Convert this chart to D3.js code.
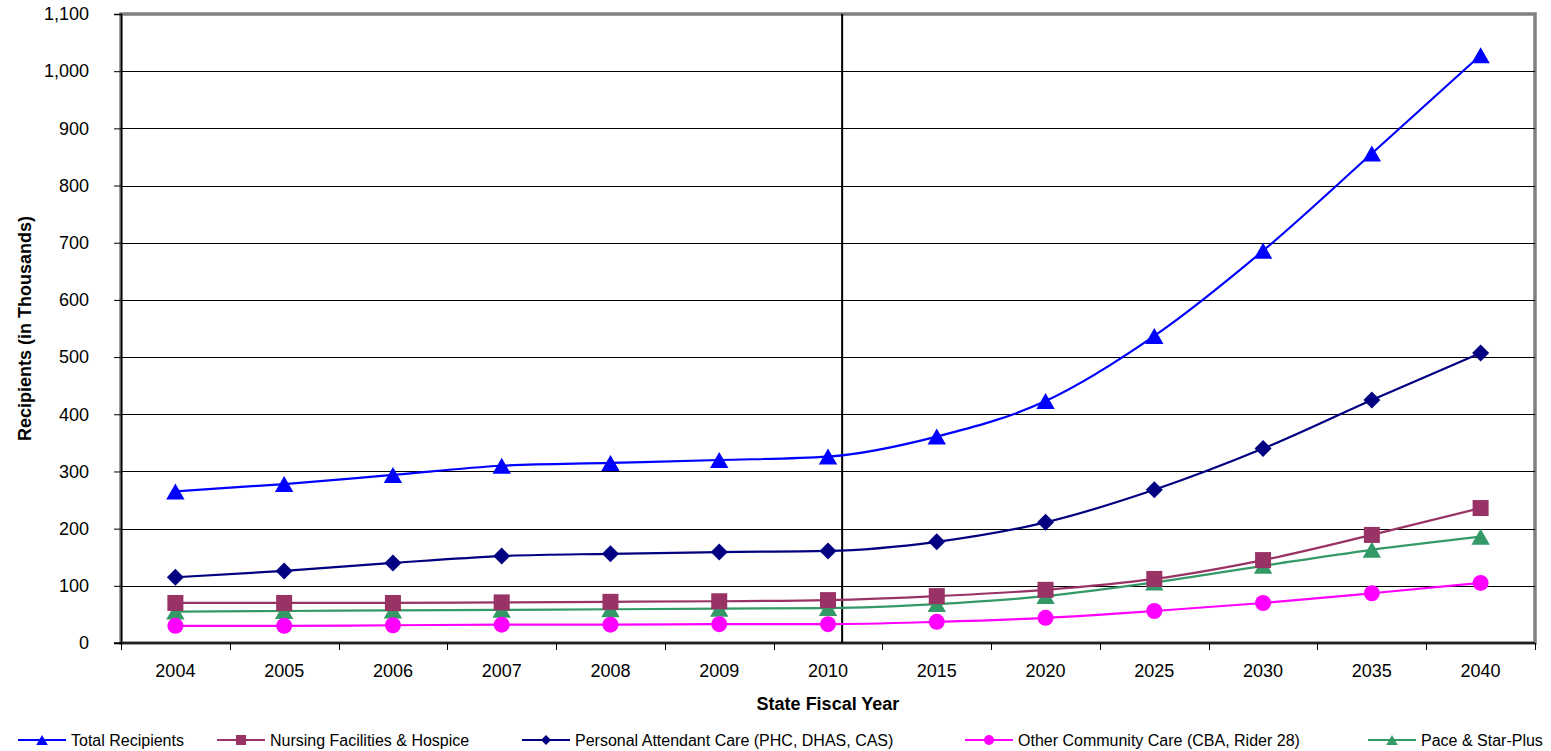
<!DOCTYPE html>
<html lang="en">
<head>
  <meta charset="utf-8">
  <script src="https://d3js.org/d3.v7.min.js"></script>
  <style>
    body {
      margin: 0;
      background: #fff;
      font-family: Arial, "Liberation Sans", Helvetica, sans-serif;
    }
    #chart text {
      fill: #000;
    }
    .tick-label {
      font-size: 18px;
    }
    .axis-title {
      font-size: 18px;
      font-weight: bold;
    }
    .legend-label {
      font-size: 16px;
    }
  </style>
</head>
<body>
  <svg id="chart" width="1551" height="751"></svg>
  <script>
    // values in thousands
    var years = ["2004", "2005", "2006", "2007", "2008", "2009", "2010",
                 "2015", "2020", "2025", "2030", "2035", "2040"];

    var totalRecipients = [265, 278, 294, 310, 315, 320, 326, 361, 423, 537, 686, 856, 1028];
    var nursingHospice  = [70, 70, 70, 71, 72, 73, 75, 82, 93, 112, 145, 189, 236];
    var personalCare    = [115, 126, 140, 152, 156, 159, 161, 177, 211, 268, 340, 425, 507];
    var otherCommunity  = [30, 30, 31, 32, 32, 33, 33, 37, 44, 56, 70, 87, 105];
    var paceStarPlus    = [55, 56, 57, 58, 59, 60, 61, 68, 82, 106, 135, 163, 186];

    var yTicks = [0, 100, 200, 300, 400, 500, 600, 700, 800, 900, 1000, 1100];

    var series = [
      { name: "Total Recipients", values: totalRecipients, color: "#0000ff", marker: "triangle" },
      { name: "Nursing Facilities & Hospice", values: nursingHospice, color: "#993366", marker: "square" },
      { name: "Personal Attendant Care (PHC, DHAS, CAS)", values: personalCare, color: "#000080", marker: "diamond" },
      { name: "Other Community Care (CBA, Rider 28)", values: otherCommunity, color: "#ff00ff", marker: "circle" },
      { name: "Pace & Star-Plus", values: paceStarPlus, color: "#339966", marker: "triangle" }
    ];

    // draw order so the blue series sit on top like the original
    var drawOrder = [4, 3, 1, 2, 0];
    var legendX = [18, 217, 522, 965, 1368];

    var svg = d3.select("#chart");
    var plotLeft = 121, plotRight = 1535, plotTop = 14, plotBottom = 643;

    var x = d3.scaleBand().domain(years).range([plotLeft, plotRight]);
    var y = d3.scaleLinear().domain([0, 1100]).range([plotBottom, plotTop]);
    var cx = function(yr) { return x(yr) + x.bandwidth() / 2; };

    // plot frame
    svg.append("rect")
      .attr("x", plotLeft).attr("y", plotTop)
      .attr("width", plotRight - plotLeft).attr("height", plotBottom - plotTop)
      .attr("fill", "#fff")
      .attr("stroke", "#808080")
      .attr("stroke-width", 3.5);

    // gridlines
    svg.append("g")
      .selectAll("line")
      .data(yTicks.filter(function(d) { return d > 0 && d < 1100; }))
      .enter().append("line")
        .attr("x1", plotLeft).attr("x2", plotRight)
        .attr("y1", function(d) { return Math.round(y(d)) + 0.5; })
        .attr("y2", function(d) { return Math.round(y(d)) + 0.5; })
        .attr("stroke", "#000")
        .attr("stroke-width", 1);

    // y axis
    var yAxis = svg.append("g")
      .attr("transform", "translate(" + plotLeft + ",0)")
      .call(d3.axisLeft(y).tickValues(yTicks).tickSize(7).tickPadding(25)
        .tickFormat(d3.format(",")));
    yAxis.select(".domain").attr("stroke", "#000").attr("stroke-width", 1.5);
    yAxis.selectAll(".tick line").attr("stroke", "#000");
    yAxis.selectAll(".tick text").attr("class", "tick-label");
    yAxis.attr("font-family", null).attr("font-size", null);

    // x axis: ticks on the band edges, labels in the middle
    var xAxis = svg.append("g")
      .attr("transform", "translate(0," + plotBottom + ")");
    xAxis.append("line")
      .attr("x1", plotLeft - 7).attr("x2", plotRight)
      .attr("stroke", "#000").attr("stroke-width", 1.5);
    var edges = years.map(function(d) { return x(d); }).concat([plotRight]);
    xAxis.selectAll(".edge")
      .data(edges)
      .enter().append("line")
        .attr("class", "edge")
        .attr("x1", function(d) { return Math.round(d) + 0.5; })
        .attr("x2", function(d) { return Math.round(d) + 0.5; })
        .attr("y1", 0).attr("y2", 7)
        .attr("stroke", "#000");
    xAxis.selectAll(".tick-label")
      .data(years)
      .enter().append("text")
        .attr("class", "tick-label")
        .attr("x", cx)
        .attr("y", 34)
        .attr("text-anchor", "middle")
        .text(function(d) { return d; });

    // separator between actual and projected years
    var sepX = x("2010") + x.bandwidth() * 0.63;
    svg.append("line")
      .attr("x1", sepX).attr("x2", sepX)
      .attr("y1", plotTop).attr("y2", plotBottom)
      .attr("stroke", "#000").attr("stroke-width", 2);

    // axis titles
    svg.append("text")
      .attr("class", "axis-title")
      .attr("x", (plotLeft + plotRight) / 2)
      .attr("y", 710)
      .attr("text-anchor", "middle")
      .text("State Fiscal Year");

    svg.append("text")
      .attr("class", "axis-title")
      .attr("transform", "translate(31," + ((plotTop + plotBottom) / 2) + ") rotate(-90)")
      .attr("text-anchor", "middle")
      .text("Recipients (in Thousands)");

    function drawMarker(sel, type, size, color) {
      var s = size;
      if (type === "circle") {
        sel.append("circle").attr("r", s / 2).attr("fill", color);
      } else if (type === "square") {
        sel.append("rect").attr("x", -s / 2).attr("y", -s / 2)
          .attr("width", s).attr("height", s).attr("fill", color);
      } else if (type === "diamond") {
        sel.append("path")
          .attr("d", "M0," + (-s / 2) + "L" + (s / 2) + ",0L0," + (s / 2) + "L" + (-s / 2) + ",0Z")
          .attr("fill", color);
      } else {
        var w = s * 1.15;
        sel.append("path")
          .attr("d", "M0," + (-s / 2) + "L" + (w / 2) + "," + (s / 2) + "L" + (-w / 2) + "," + (s / 2) + "Z")
          .attr("fill", color);
      }
    }

    var line = d3.line()
      .x(function(d, i) { return cx(years[i]); })
      .y(function(d) { return y(d); })
      .curve(d3.curveMonotoneX);

    drawOrder.forEach(function(k) {
      var s = series[k];
      var g = svg.append("g");
      g.append("path")
        .datum(s.values)
        .attr("d", line)
        .attr("fill", "none")
        .attr("stroke", s.color)
        .attr("stroke-width", 2.2);
      g.selectAll(".pt")
        .data(s.values)
        .enter().append("g")
          .attr("class", "pt")
          .attr("transform", function(d, i) { return "translate(" + cx(years[i]) + "," + y(d) + ")"; })
          .each(function() {
            var sz = s.marker === "diamond" ? 17 : 16;
            drawMarker(d3.select(this), s.marker, sz, s.color);
          });
    });

    // legend
    var legend = svg.append("g").attr("transform", "translate(0,740)");
    series.forEach(function(s, i) {
      var lg = legend.append("g").attr("transform", "translate(" + legendX[i] + ",0)");
      lg.append("line")
        .attr("x1", 0).attr("x2", 48)
        .attr("stroke", s.color).attr("stroke-width", 2);
      var m = lg.append("g").attr("transform", "translate(24,0)");
      drawMarker(m, s.marker, 10, s.color);
      lg.append("text")
        .attr("class", "legend-label")
        .attr("x", 53)
        .attr("y", 6)
        .text(s.name);
    });
  </script>
</body>
</html>
